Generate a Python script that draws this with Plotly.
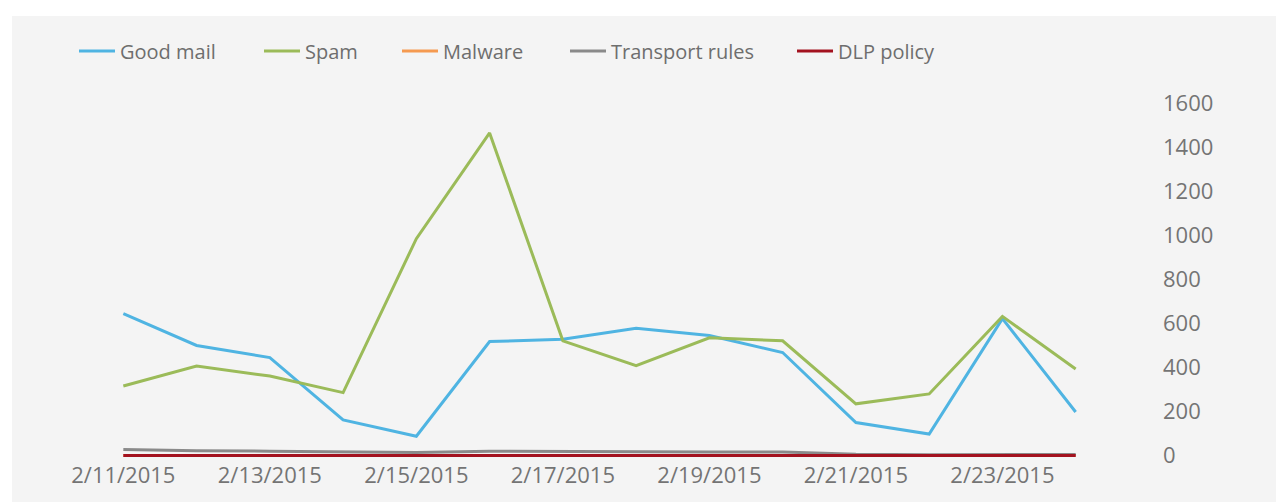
import plotly.graph_objects as go

dates = ["2015-02-11", "2015-02-12", "2015-02-13", "2015-02-14", "2015-02-15",
         "2015-02-16", "2015-02-17", "2015-02-18", "2015-02-19", "2015-02-20",
         "2015-02-21", "2015-02-22", "2015-02-23", "2015-02-24"]

good_mail = [645, 500, 445, 162, 88, 518, 528, 578, 545, 468, 150, 98, 622, 198]
spam = [316, 407, 361, 286, 985, 1465, 521, 408, 535, 521, 235, 280, 632, 393]
malware = [0, 0, 0, 0, 0, 0, 0, 0, 0, 0, 0, 0, 0, 0]
transport_rules = [28, 22, 20, 18, 14, 20, 18, 18, 16, 16, 6, 4, 6, 5]
dlp_policy = [0, 0, 0, 0, 0, 0, 0, 0, 0, 0, 0, 0, 0, 0]

y_ticks = [0, 200, 400, 600, 800, 1000, 1200, 1400, 1600]

series = [
    ("Good mail", good_mail, "#4fb4e2"),
    ("Spam", spam, "#9bbb59"),
    ("Malware", malware, "#f59a50"),
    ("Transport rules", transport_rules, "#8a8a8a"),
    ("DLP policy", dlp_policy, "#a3121f"),
]

W, H = 1284, 502
text_starts = [112, 297, 435, 603, 830]
ITEMW = 36
legend_font = dict(family="Open Sans", size=20, color="#6e6e6e")

fig = go.Figure()
layout_legends = {}
for i, (name, vals, color) in enumerate(series):
    lname = "legend" if i == 0 else f"legend{i+1}"
    fig.add_trace(go.Scatter(
        x=dates, y=vals, name=name, mode="lines",
        line=dict(color=color, width=3),
        legend=lname,
    ))
    layout_legends[lname] = dict(
        xref="container", yref="container",
        x=(text_starts[i] - ITEMW - 10) / W, xanchor="left",
        y=1 - 43 / H, yanchor="middle",
        orientation="h", bgcolor="rgba(0,0,0,0)",
        font=legend_font, itemwidth=ITEMW,
        borderwidth=0,
    )

ml, mr = 108, W - 1075
y0, y1 = -20, 1660
mt, mb = 82, H - 452
pw, ph = W - ml - mr, H - mt - mb

# grey card behind the chart, white frame at the page edge
bg_shape = dict(
    type="rect", xref="paper", yref="paper", layer="below",
    x0=(4 - ml) / pw, x1=(W - 4 - ml) / pw,
    y0=(mb - 0) / ph * -1 + 0, y1=(H - 8 - mb) / ph,
    fillcolor="#f4f4f4", line=dict(width=0),
)

fig.update_layout(
    width=W, height=H,
    margin=dict(l=ml, r=mr, t=mt, b=mb),
    paper_bgcolor="#ffffff",
    plot_bgcolor="rgba(0,0,0,0)",
    font=dict(family="Open Sans", color="#747474"),
    showlegend=True,
    shapes=[bg_shape],
    **layout_legends,
)

fig.update_xaxes(
    type="date",
    range=["2015-02-10 21:36", "2015-02-24 02:24"],
    tick0="2015-02-11", dtick=2 * 86400000,
    tickformat="%-m/%-d/%Y",
    showgrid=False, zeroline=False, showline=False,
    ticks="", tickfont=dict(size=22, color="#747474"),
)
fig.update_yaxes(
    side="right",
    range=[y0, y1],
    tickvals=y_ticks,
    showgrid=False, zeroline=False, showline=False,
    ticks="", ticklabelstandoff=79,
    tickfont=dict(size=22, color="#747474"),
)

fig.write_html("out.html")
